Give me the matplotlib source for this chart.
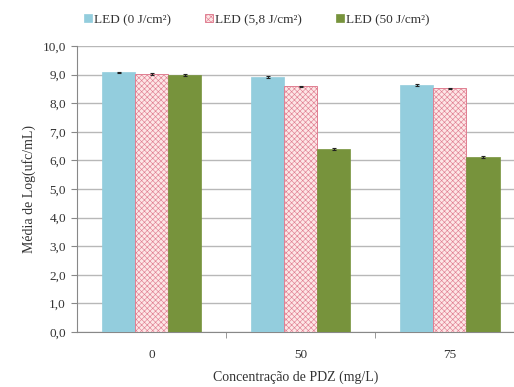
import numpy as np
import matplotlib
matplotlib.use('Agg')
import matplotlib.pyplot as plt

plt.rcParams['font.family'] = ['Liberation Serif', 'DejaVu Serif']
plt.rcParams['hatch.linewidth'] = 0.45

# Data
categories = ['0', '50', '75']
series_names = ['LED (0 J/cm²)', 'LED (5,8 J/cm²)', 'LED (50 J/cm²)']
led_0 = [9.08, 8.93, 8.65]
led_58 = [9.02, 8.60, 8.52]
led_50 = [9.00, 6.40, 6.12]
err_0 = [0.02, 0.04, 0.04]
err_58 = [0.03, 0.02, 0.03]
err_50 = [0.04, 0.02, 0.02]

fig = plt.figure(figsize=(5.14, 3.87), dpi=100)
ax = fig.add_axes([0.150, 0.142, 0.85, 0.739])

x = np.arange(len(categories))
w = 0.222
ekw = dict(ecolor='#222222', elinewidth=0.8, capsize=1.5, capthick=0.8)
ax.bar(x - w, led_0, w, color='#93cddd', edgecolor='#93cddd', linewidth=0.5,
       yerr=err_0, error_kw=ekw, label=series_names[0], zorder=3)
ax.bar(x, led_58, w, color='#fde6e6', edgecolor='#e07f92', hatch='xxxxxx', linewidth=0.7,
       yerr=err_58, error_kw=ekw, label=series_names[1], zorder=3)
ax.bar(x + w, led_50, w, color='#77933c', edgecolor='#77933c', linewidth=0.5,
       yerr=err_50, error_kw=ekw, label=series_names[2], zorder=3)

ax.set_xlim(-0.5, 2.43)
ax.set_ylim(0, 10)
ax.set_yticks(np.arange(0, 11, 1))
ax.set_yticklabels(['{:.1f}'.format(v).replace('.', ',') for v in np.arange(0, 11, 1)])
ax.set_xticks(x)
ax.set_xticklabels(categories)
ax.set_xticks([0.5, 1.5], minor=True)
ax.tick_params(axis='x', which='major', length=0, pad=12)
ax.tick_params(axis='x', which='minor', length=4, color='#888888', direction='out')
ax.tick_params(axis='y', length=4, color='#888888', pad=4)
ax.tick_params(labelsize=9.5, labelcolor='#333333')

ax.yaxis.grid(True, color='#b8b8b8', linewidth=1)
ax.set_axisbelow(True)
for s in ['top', 'right']:
    ax.spines[s].set_visible(False)
ax.spines['left'].set_color('#888888')
ax.spines['bottom'].set_color('#888888')

ax.set_xlabel('Concentração de PDZ (mg/L)', fontsize=10, color='#333333', labelpad=7)
ax.set_ylabel('Média de Log(ufc/mL)', fontsize=10, color='#333333', labelpad=5)

fig.legend(loc='upper center', bbox_to_anchor=(0.5, 0.995), ncol=3, frameon=False,
           fontsize=9.5, handlelength=0.6, handleheight=0.6, handletextpad=0.15,
           columnspacing=2.6, labelcolor='#333333')

fig.savefig('out.png', dpi=100)
